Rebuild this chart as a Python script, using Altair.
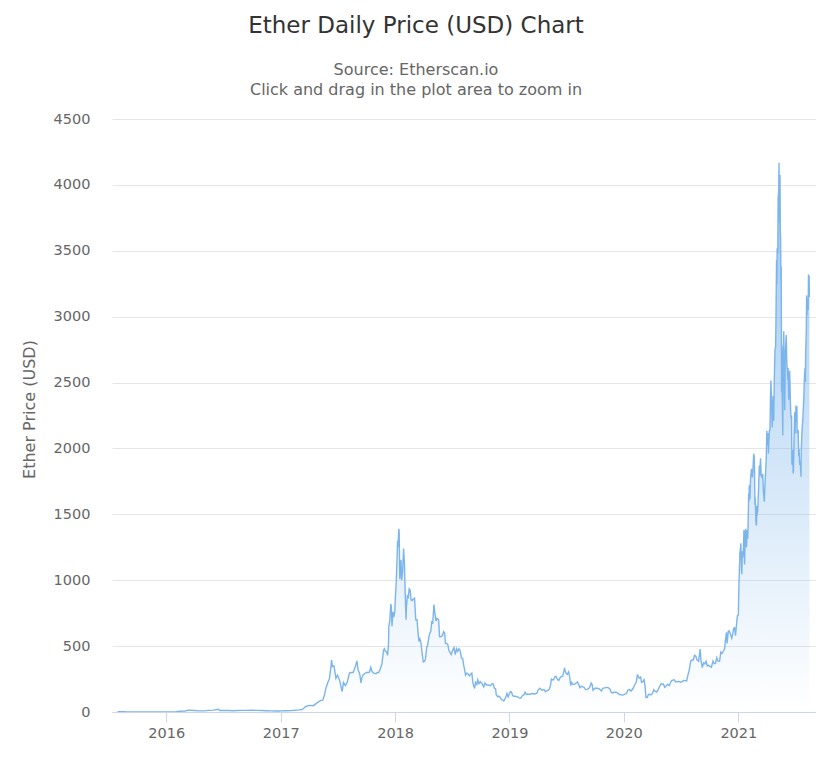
import altair as alt
import pandas as pd

FONT = "DejaVu Sans"

prices_2015 = [
    ("2015-07-30", 2.8), ("2015-08-07", 2.77), ("2015-08-14", 1.8), ("2015-08-21", 1.4),
    ("2015-08-28", 1.3), ("2015-09-04", 1.3), ("2015-09-18", 0.9), ("2015-10-02", 0.7),
    ("2015-10-16", 0.5), ("2015-10-30", 1.0), ("2015-11-13", 0.9), ("2015-11-27", 0.85),
    ("2015-12-11", 0.85), ("2015-12-25", 0.9),
]

prices_2016 = [
    ("2016-01-01", 0.95), ("2016-01-15", 1.2), ("2016-02-01", 2.2), ("2016-02-15", 5.2),
    ("2016-03-01", 7.5), ("2016-03-13", 14.5), ("2016-03-31", 11.4), ("2016-04-15", 8.4),
    ("2016-05-01", 8.8), ("2016-05-15", 12.5), ("2016-06-01", 14.0), ("2016-06-16", 20.5),
    ("2016-06-20", 11.0), ("2016-07-01", 12.5), ("2016-07-15", 11.5), ("2016-08-01", 10.0),
    ("2016-08-15", 11.0), ("2016-09-01", 12.0), ("2016-09-15", 12.0), ("2016-10-01", 13.0),
    ("2016-10-15", 12.0), ("2016-11-01", 11.0), ("2016-11-15", 10.0), ("2016-12-01", 8.5),
    ("2016-12-15", 8.0), ("2016-12-31", 8.0),
]

prices_2017 = [
    ("2017-01-01", 8.2), ("2017-01-15", 9.8), ("2017-02-01", 10.7), ("2017-02-15", 12.8),
    ("2017-03-01", 16), ("2017-03-10", 19), ("2017-03-15", 29), ("2017-03-22", 42),
    ("2017-04-01", 50), ("2017-04-15", 48), ("2017-05-01", 77), ("2017-05-10", 88),
    ("2017-05-15", 90), ("2017-05-20", 125), ("2017-05-25", 180), ("2017-06-01", 230),
    ("2017-06-05", 250), ("2017-06-10", 340), ("2017-06-12", 395), ("2017-06-15", 345),
    ("2017-06-20", 350), ("2017-06-26", 255), ("2017-07-01", 280), ("2017-07-08", 240),
    ("2017-07-12", 195), ("2017-07-16", 155), ("2017-07-20", 225), ("2017-07-26", 200),
    ("2017-08-01", 225), ("2017-08-08", 295), ("2017-08-14", 300), ("2017-08-20", 300),
    ("2017-08-27", 345), ("2017-09-01", 388), ("2017-09-05", 318), ("2017-09-10", 290),
    ("2017-09-14", 220), ("2017-09-16", 252), ("2017-09-20", 280), ("2017-09-25", 290),
    ("2017-10-01", 300), ("2017-10-10", 300), ("2017-10-12", 310), ("2017-10-15", 340),
    ("2017-10-20", 305), ("2017-10-25", 295), ("2017-11-01", 290), ("2017-11-05", 300),
    ("2017-11-10", 300), ("2017-11-15", 330), ("2017-11-20", 365), ("2017-11-25", 470),
    ("2017-11-28", 480), ("2017-12-01", 460), ("2017-12-05", 455), ("2017-12-08", 430),
    ("2017-12-11", 515), ("2017-12-12", 650), ("2017-12-15", 690), ("2017-12-18", 820),
    ("2017-12-20", 800), ("2017-12-22", 650), ("2017-12-25", 760), ("2017-12-28", 720),
    ("2017-12-31", 760),
]

prices_2018 = [
    ("2018-01-02", 880), ("2018-01-04", 950), ("2018-01-07", 1150), ("2018-01-09", 1300),
    ("2018-01-10", 1250), ("2018-01-13", 1390), ("2018-01-14", 1365), ("2018-01-16", 1010),
    ("2018-01-17", 1030), ("2018-01-20", 1155), ("2018-01-22", 1000), ("2018-01-25", 1060),
    ("2018-01-28", 1240), ("2018-01-31", 1120), ("2018-02-02", 915), ("2018-02-05", 700),
    ("2018-02-06", 790), ("2018-02-09", 880), ("2018-02-12", 870), ("2018-02-15", 935),
    ("2018-02-18", 925), ("2018-02-21", 850), ("2018-02-25", 845), ("2018-02-28", 860),
    ("2018-03-04", 865), ("2018-03-08", 700), ("2018-03-12", 700), ("2018-03-15", 610),
    ("2018-03-18", 535), ("2018-03-21", 555), ("2018-03-25", 520), ("2018-03-28", 450),
    ("2018-04-01", 380), ("2018-04-05", 385), ("2018-04-08", 405), ("2018-04-12", 490),
    ("2018-04-15", 510), ("2018-04-19", 570), ("2018-04-22", 600), ("2018-04-25", 610),
    ("2018-04-28", 690), ("2018-05-01", 670), ("2018-05-05", 815), ("2018-05-08", 750),
    ("2018-05-12", 690), ("2018-05-15", 710), ("2018-05-20", 700), ("2018-05-23", 570),
    ("2018-05-27", 570), ("2018-06-01", 580), ("2018-06-05", 610), ("2018-06-08", 600),
    ("2018-06-11", 520), ("2018-06-14", 520), ("2018-06-18", 515), ("2018-06-22", 465),
    ("2018-06-25", 455), ("2018-06-29", 435), ("2018-07-03", 465), ("2018-07-08", 490),
    ("2018-07-12", 435), ("2018-07-16", 480), ("2018-07-20", 460), ("2018-07-24", 480),
    ("2018-07-28", 465), ("2018-08-01", 410), ("2018-08-05", 405), ("2018-08-08", 355),
    ("2018-08-11", 320), ("2018-08-14", 280), ("2018-08-18", 295), ("2018-08-22", 290),
    ("2018-08-26", 275), ("2018-08-30", 285), ("2018-09-03", 295), ("2018-09-06", 230),
    ("2018-09-09", 195), ("2018-09-12", 185), ("2018-09-15", 225), ("2018-09-19", 210),
    ("2018-09-22", 245), ("2018-09-26", 215), ("2018-09-30", 230), ("2018-10-04", 220),
    ("2018-10-11", 190), ("2018-10-15", 220), ("2018-10-20", 205), ("2018-10-25", 205),
    ("2018-11-01", 200), ("2018-11-07", 215), ("2018-11-11", 210), ("2018-11-14", 180),
    ("2018-11-18", 175), ("2018-11-20", 130), ("2018-11-25", 115), ("2018-11-28", 120),
    ("2018-12-01", 115), ("2018-12-07", 92), ("2018-12-11", 90), ("2018-12-14", 84),
    ("2018-12-18", 100), ("2018-12-21", 115), ("2018-12-24", 140), ("2018-12-28", 115),
    ("2018-12-31", 133),
]

prices_2019 = [
    ("2019-01-04", 155), ("2019-01-08", 150), ("2019-01-11", 125), ("2019-01-15", 120),
    ("2019-01-20", 120), ("2019-01-27", 115), ("2019-02-01", 107), ("2019-02-06", 104),
    ("2019-02-10", 120), ("2019-02-17", 132), ("2019-02-20", 150), ("2019-02-24", 135),
    ("2019-03-01", 135), ("2019-03-08", 135), ("2019-03-15", 140), ("2019-03-22", 137),
    ("2019-03-30", 142), ("2019-04-02", 165), ("2019-04-08", 180), ("2019-04-15", 165),
    ("2019-04-22", 170), ("2019-04-26", 155), ("2019-05-01", 160), ("2019-05-08", 170),
    ("2019-05-12", 200), ("2019-05-15", 250), ("2019-05-18", 245), ("2019-05-22", 245),
    ("2019-05-27", 270), ("2019-05-30", 270), ("2019-06-04", 245), ("2019-06-08", 240),
    ("2019-06-12", 260), ("2019-06-16", 270), ("2019-06-20", 270), ("2019-06-24", 310),
    ("2019-06-26", 335), ("2019-06-28", 310), ("2019-07-02", 290), ("2019-07-05", 285),
    ("2019-07-09", 305), ("2019-07-12", 275), ("2019-07-16", 200), ("2019-07-19", 225),
    ("2019-07-23", 210), ("2019-07-28", 210), ("2019-08-01", 218), ("2019-08-06", 228),
    ("2019-08-10", 210), ("2019-08-14", 185), ("2019-08-18", 195), ("2019-08-22", 192),
    ("2019-08-28", 185), ("2019-09-01", 172), ("2019-09-06", 170), ("2019-09-12", 180),
    ("2019-09-16", 198), ("2019-09-19", 220), ("2019-09-22", 210), ("2019-09-25", 165),
    ("2019-10-01", 180), ("2019-10-08", 180), ("2019-10-15", 175), ("2019-10-22", 160),
    ("2019-10-26", 180), ("2019-11-01", 183), ("2019-11-07", 187), ("2019-11-12", 185),
    ("2019-11-18", 175), ("2019-11-22", 150), ("2019-11-25", 145), ("2019-12-01", 150),
    ("2019-12-08", 150), ("2019-12-15", 140), ("2019-12-18", 132), ("2019-12-22", 133),
    ("2019-12-28", 128), ("2019-12-31", 130),
]

prices_2020 = [
    ("2020-01-05", 136), ("2020-01-10", 140), ("2020-01-14", 165), ("2020-01-19", 170),
    ("2020-01-25", 160), ("2020-01-31", 180), ("2020-02-05", 205), ("2020-02-10", 225),
    ("2020-02-14", 285), ("2020-02-17", 265), ("2020-02-20", 258), ("2020-02-24", 265),
    ("2020-02-27", 225), ("2020-03-02", 230), ("2020-03-06", 245), ("2020-03-09", 200),
    ("2020-03-12", 110), ("2020-03-16", 110), ("2020-03-20", 133), ("2020-03-24", 135),
    ("2020-03-28", 130), ("2020-04-02", 141), ("2020-04-06", 170), ("2020-04-10", 158),
    ("2020-04-15", 152), ("2020-04-20", 170), ("2020-04-25", 195), ("2020-04-29", 215),
    ("2020-05-03", 210), ("2020-05-07", 212), ("2020-05-11", 187), ("2020-05-15", 195),
    ("2020-05-20", 210), ("2020-05-25", 200), ("2020-05-29", 220), ("2020-06-02", 238),
    ("2020-06-06", 242), ("2020-06-10", 245), ("2020-06-15", 230), ("2020-06-20", 230),
    ("2020-06-25", 232), ("2020-06-30", 226), ("2020-07-05", 229), ("2020-07-10", 240),
    ("2020-07-15", 238), ("2020-07-20", 236), ("2020-07-24", 280), ("2020-07-28", 316),
    ("2020-08-02", 386), ("2020-08-06", 395), ("2020-08-10", 395), ("2020-08-14", 430),
    ("2020-08-18", 425), ("2020-08-22", 395), ("2020-08-27", 385), ("2020-09-01", 477),
    ("2020-09-04", 385), ("2020-09-08", 337), ("2020-09-12", 373), ("2020-09-16", 365),
    ("2020-09-20", 385), ("2020-09-24", 349), ("2020-09-28", 355), ("2020-10-02", 346),
    ("2020-10-07", 340), ("2020-10-12", 386), ("2020-10-16", 366), ("2020-10-20", 369),
    ("2020-10-24", 412), ("2020-10-28", 386), ("2020-11-02", 385), ("2020-11-06", 455),
    ("2020-11-10", 445), ("2020-11-14", 461), ("2020-11-18", 480), ("2020-11-21", 550),
    ("2020-11-24", 605), ("2020-11-26", 520), ("2020-11-30", 615), ("2020-12-03", 615),
    ("2020-12-07", 590), ("2020-12-11", 560), ("2020-12-14", 590), ("2020-12-17", 635),
    ("2020-12-20", 640), ("2020-12-23", 580), ("2020-12-27", 685), ("2020-12-29", 730),
    ("2020-12-31", 737),
]

prices_2021 = [
    ("2021-01-01", 730), ("2021-01-03", 980), ("2021-01-04", 1040), ("2021-01-06", 1210),
    ("2021-01-07", 1225), ("2021-01-09", 1280), ("2021-01-11", 1090), ("2021-01-12", 1045),
    ("2021-01-14", 1220), ("2021-01-15", 1170), ("2021-01-17", 1230), ("2021-01-19", 1380),
    ("2021-01-21", 1120), ("2021-01-22", 1235), ("2021-01-24", 1390), ("2021-01-27", 1250),
    ("2021-01-29", 1380), ("2021-01-31", 1315), ("2021-02-02", 1515), ("2021-02-03", 1660),
    ("2021-02-04", 1595), ("2021-02-05", 1720), ("2021-02-07", 1615), ("2021-02-09", 1770),
    ("2021-02-12", 1845), ("2021-02-15", 1780), ("2021-02-17", 1850), ("2021-02-19", 1960),
    ("2021-02-21", 1935), ("2021-02-22", 1780), ("2021-02-23", 1570), ("2021-02-24", 1625),
    ("2021-02-26", 1445), ("2021-02-28", 1415), ("2021-03-01", 1565), ("2021-03-02", 1490),
    ("2021-03-04", 1540), ("2021-03-06", 1655), ("2021-03-09", 1870), ("2021-03-10", 1795),
    ("2021-03-13", 1925), ("2021-03-15", 1790), ("2021-03-18", 1780), ("2021-03-20", 1805),
    ("2021-03-22", 1680), ("2021-03-25", 1595), ("2021-03-27", 1715), ("2021-03-29", 1820),
    ("2021-03-31", 1920), ("2021-04-02", 2135), ("2021-04-03", 2025), ("2021-04-06", 2115),
    ("2021-04-07", 1960), ("2021-04-10", 2135), ("2021-04-12", 2140), ("2021-04-14", 2430),
    ("2021-04-15", 2515), ("2021-04-17", 2350), ("2021-04-19", 2160), ("2021-04-22", 2400),
    ("2021-04-24", 2210), ("2021-04-26", 2530), ("2021-04-28", 2750), ("2021-04-30", 2770),
    ("2021-05-01", 2945), ("2021-05-03", 3430), ("2021-05-04", 3250), ("2021-05-05", 3520),
    ("2021-05-07", 3480), ("2021-05-08", 3900), ("2021-05-10", 3950), ("2021-05-11", 4168),
    ("2021-05-12", 3785), ("2021-05-13", 3715), ("2021-05-14", 4075), ("2021-05-15", 3650),
    ("2021-05-16", 3590), ("2021-05-17", 3280), ("2021-05-18", 3380), ("2021-05-19", 2430),
    ("2021-05-20", 2780), ("2021-05-21", 2430), ("2021-05-23", 2100), ("2021-05-24", 2640),
    ("2021-05-26", 2890), ("2021-05-27", 2740), ("2021-05-29", 2290), ("2021-05-31", 2710),
    ("2021-06-03", 2860), ("2021-06-05", 2630), ("2021-06-07", 2590), ("2021-06-08", 2520),
    ("2021-06-09", 2610), ("2021-06-11", 2370), ("2021-06-14", 2590), ("2021-06-16", 2370),
    ("2021-06-18", 2230), ("2021-06-20", 2250), ("2021-06-21", 1890), ("2021-06-22", 1875),
    ("2021-06-24", 1990), ("2021-06-25", 1810), ("2021-06-26", 1830), ("2021-06-28", 2080),
    ("2021-06-30", 2275), ("2021-07-01", 2110), ("2021-07-04", 2325), ("2021-07-05", 2200),
    ("2021-07-07", 2320), ("2021-07-08", 2115), ("2021-07-11", 2140), ("2021-07-13", 1940),
    ("2021-07-14", 1995), ("2021-07-16", 1875), ("2021-07-18", 1895), ("2021-07-20", 1785),
    ("2021-07-21", 1995), ("2021-07-23", 2120), ("2021-07-26", 2230), ("2021-07-29", 2380),
    ("2021-07-31", 2535), ("2021-08-02", 2610), ("2021-08-03", 2505), ("2021-08-04", 2725),
    ("2021-08-06", 2890), ("2021-08-07", 3160), ("2021-08-08", 3010), ("2021-08-10", 3140),
    ("2021-08-12", 3050), ("2021-08-13", 3320), ("2021-08-14", 3270), ("2021-08-15", 3310),
    ("2021-08-16", 3150),
]

y_ticks = [0, 500, 1000, 1500, 2000, 2500, 3000, 3500, 4000, 4500]
year_ticks = ["2016-01-01", "2017-01-01", "2018-01-01", "2019-01-01", "2020-01-01", "2021-01-01"]
x_domain = ["2015-07-12", "2021-09-06"]

rows = prices_2015 + prices_2016 + prices_2017 + prices_2018 + prices_2019 + prices_2020 + prices_2021
df = pd.DataFrame(rows, columns=["date", "price"])


def ms(s):
    return int(pd.Timestamp(s, tz="UTC").value // 10**6)


x_enc = alt.X(
    "date:T",
    scale=alt.Scale(type="utc", domain=[ms(d) for d in x_domain], nice=False),
    axis=alt.Axis(
        values=[ms(d) for d in year_ticks],
        format="%Y",
        formatType="utc",
        title=None,
        grid=False,
        domainColor="#ccd6eb",
        tickColor="#ccd6eb",
        tickSize=10,
        labelPadding=4,
        labelColor="#666666",
        labelFontSize=14.5,
        labelFont=FONT,
    ),
)
y_enc = alt.Y(
    "price:Q",
    scale=alt.Scale(domain=[0, 4500], nice=False),
    axis=alt.Axis(
        values=y_ticks,
        format="d",
        title="Ether Price (USD)",
        titleFont=FONT,
        titleFontSize=16,
        titleFontWeight="normal",
        titleColor="#666666",
        titlePadding=16,
        titleY=290,
        grid=True,
        gridColor="#e6e6e6",
        domain=False,
        ticks=False,
        tickSize=0,
        labelPadding=22,
        labelColor="#666666",
        labelFontSize=14.5,
        labelFont=FONT,
    ),
)

gradient = alt.Gradient(
    gradient="linear",
    x1=0, y1=0, x2=0, y2=1,
    stops=[
        alt.GradientStop(color="rgba(124,181,236,0.75)", offset=0),
        alt.GradientStop(color="rgba(124,181,236,0)", offset=1),
    ],
)

base = alt.Chart(df)
area = base.mark_area(color=gradient, clip=True).encode(x=x_enc, y=y_enc)
line = base.mark_line(color="#7cb5ec", strokeWidth=1.4, clip=True).encode(x=x_enc, y=y_enc)

chart = (
    alt.layer(area, line)
    .properties(
        width=704,
        height=593,
        view=alt.ViewBackground(stroke="transparent", strokeWidth=0),
        autosize=alt.AutoSizeParams(type="none"),
        padding={"left": 104, "top": 111, "right": 0, "bottom": 44},
        title=alt.TitleParams(
            text="Ether Daily Price (USD) Chart",
            subtitle=["Source: Etherscan.io", "Click and drag in the plot area to zoom in"],
            anchor="middle",
            dx=-48,
            offset=13,
            font=FONT,
            fontSize=23,
            fontWeight="normal",
            color="#333333",
            subtitleFont=FONT,
            subtitleFontSize=16,
            subtitleColor="#666666",
            subtitleLineHeight=20,
            subtitlePadding=24,
        ),
    )
    .configure_view(stroke="transparent", strokeWidth=0)
    .configure(background="white")
)

chart.save("out.html", embed_options={"renderer": "svg", "actions": False})
